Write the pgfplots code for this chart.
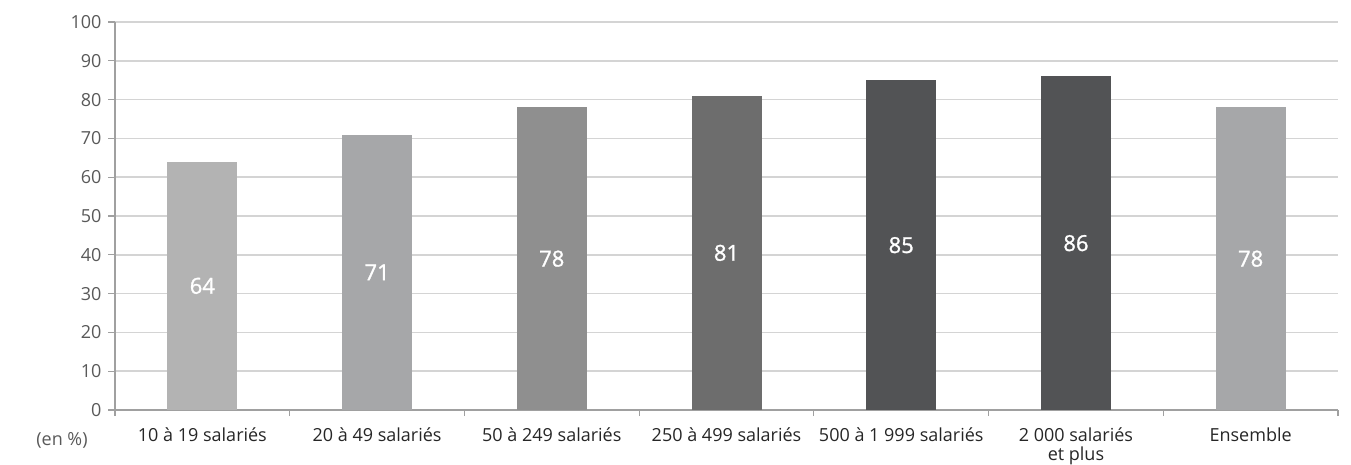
\documentclass[border=0pt]{standalone}
\usepackage{pgfplots}
\pgfplotsset{compat=1.18}
\usepackage{fontspec}
\setmainfont{Open Sans}
\newfontfamily\barlabelfont{Open Sans}[FakeBold=1.3]
\definecolor{cA}{HTML}{B3B3B3}
\definecolor{cB}{HTML}{A6A7A9}
\definecolor{cC}{HTML}{8F8F8F}
\definecolor{cD}{HTML}{6D6D6D}
\definecolor{cE}{HTML}{525355}
\definecolor{axgray}{HTML}{A0A0A0}
\definecolor{gridgray}{HTML}{D4D4D4}
\definecolor{ticktext}{HTML}{595959}
\definecolor{cattext}{HTML}{262626}
\begin{document}
\begin{tikzpicture}
\begin{axis}[
  /pgf/number format/assume math mode=true,
  scale only axis, width=1223pt, height=388pt,
  xmin=0.5, xmax=7.5, ymin=0, ymax=100,
  ytick={0,10,...,100},
  xtick={1,...,7},
  xticklabels={10 à 19 salariés,20 à 49 salariés,50 à 249 salariés,250 à 499 salariés,500 à 1 999 salariés,{2 000 salariés\\et plus},Ensemble},
  minor xtick={0.5,1.5,...,7.5},
  major x tick style={draw=none},
  minor x tick style={draw=axgray, line width=1.2pt},
  minor tick length=6pt,
  major tick length=7pt,
  y tick style={draw=axgray, line width=1.2pt},
  tick align=outside,
  axis x line*=bottom, axis y line*=left,
  axis line style={draw=axgray, line width=1.6pt, -},
  ymajorgrids, grid style={draw=gridgray, line width=1.5pt},
  yticklabel style={text=ticktext, font=\fontsize{18}{20}\selectfont, xshift=-3pt},
  xticklabel style={text=cattext, font=\fontsize{18}{19}\selectfont, align=center, anchor=north, yshift=-7pt},
  ybar, bar width=70pt, bar shift=0pt,
  nodes near coords,
  visualization depends on={y \as \rawy},
  every node near coord/.append style={anchor=center, text=white, font=\barlabelfont\fontsize{22}{24}\selectfont, yshift=-\rawy*1.94pt},
  clip=false,
]
\addplot[fill=cA, draw=none] coordinates {(1,64)};
\addplot[fill=cB, draw=none] coordinates {(2,71)};
\addplot[fill=cC, draw=none] coordinates {(3,78)};
\addplot[fill=cD, draw=none] coordinates {(4,81)};
\addplot[fill=cE, draw=none] coordinates {(5,85)};
\addplot[fill=cE, draw=none] coordinates {(6,86)};
\addplot[fill=cB, draw=none] coordinates {(7,78)};
\end{axis}
\node[text=ticktext, font=\fontsize{18}{20}\selectfont] at ([xshift=-53pt,yshift=-30pt]current axis.south west) {(en \%)};
\pgfresetboundingbox
\path ([xshift=-115pt,yshift=-54pt]current axis.south west) rectangle ([xshift=13pt,yshift=22pt]current axis.north east);
\end{tikzpicture}
\end{document}
